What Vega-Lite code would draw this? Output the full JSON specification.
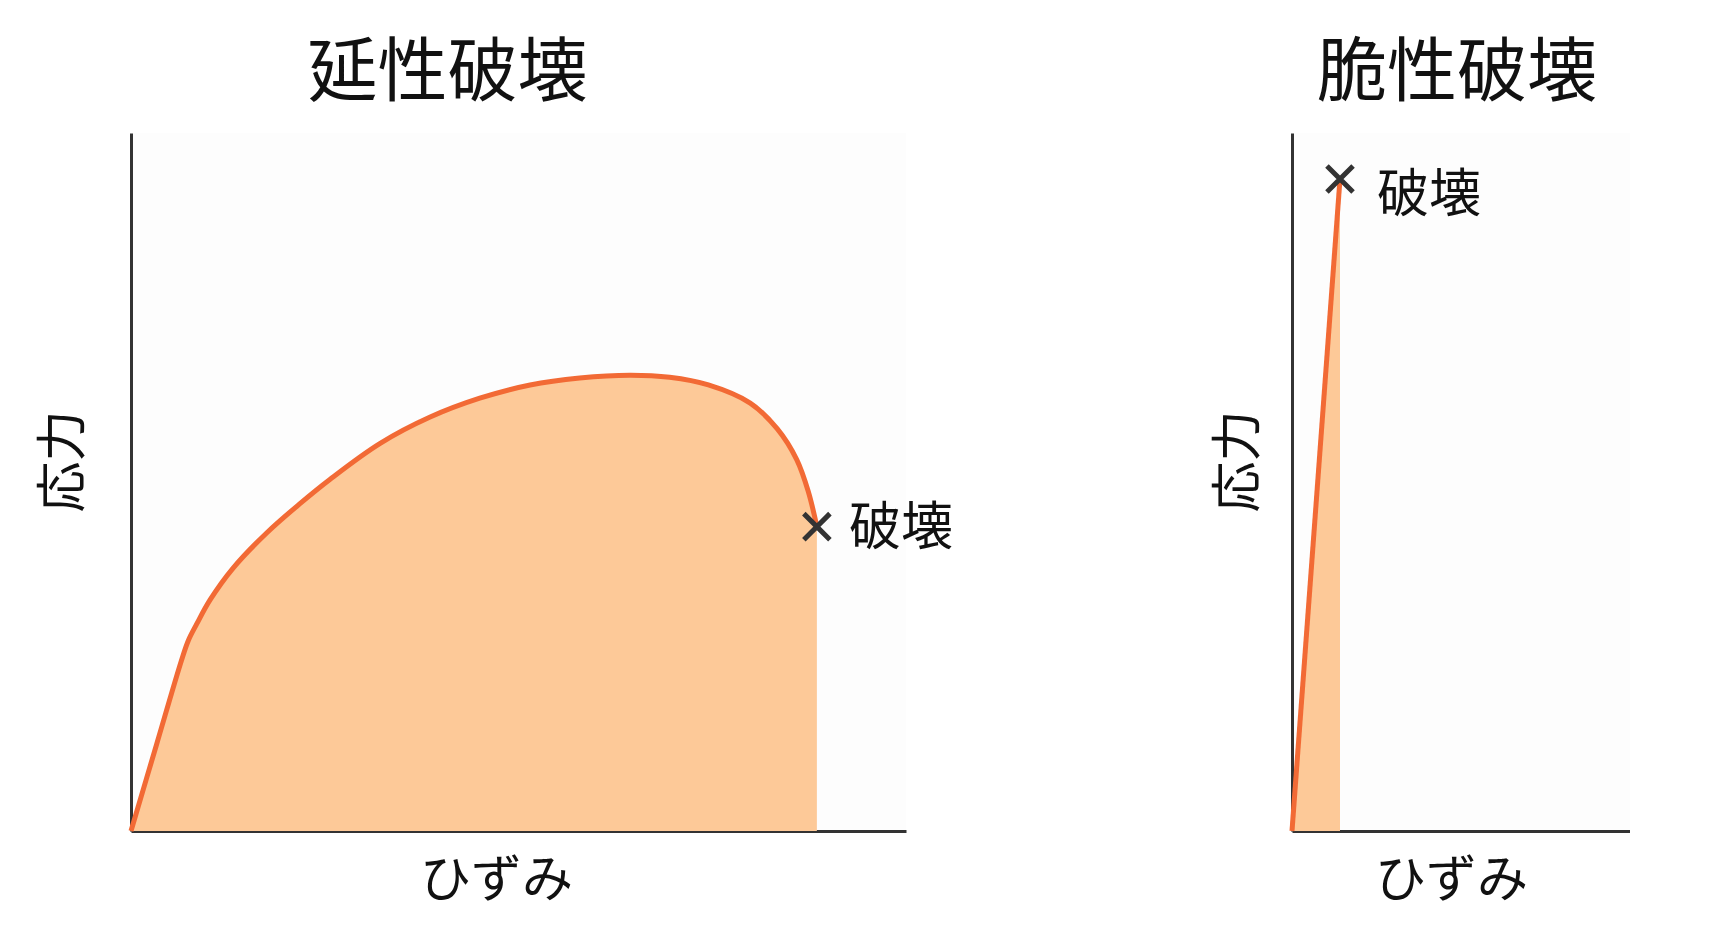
{
  "$schema": "https://vega.github.io/schema/vega-lite/v6.json",
  "background": "white",
  "padding": {"left": 38, "top": 40, "right": 0, "bottom": 10},
  "spacing": 260,
  "config": {
    "view": {"stroke": null, "fill": "#fdfdfd"},
    "font": "Noto Sans CJK JP",
    "axis": {
      "labels": false, "ticks": false, "grid": false,
      "domainColor": "#333333", "domainWidth": 3, "zindex": 1,
      "titleFont": "Noto Sans CJK JP", "titleFontSize": 51, "titleFontWeight": "normal", "titleColor": "#111111"
    },
    "title": {"fontSize": 70, "fontWeight": "normal", "color": "#111111", "font": "Noto Sans CJK JP"}
  },
  "datasets": {
    "ductile": [
      {"strain": 0, "stress": 0},
      {"strain": 3.3, "stress": 12.4},
      {"strain": 6.5, "stress": 24.4},
      {"strain": 7.4, "stress": 27.3},
      {"strain": 8.5, "stress": 29.7},
      {"strain": 10.2, "stress": 33.1},
      {"strain": 13.2, "stress": 37.7},
      {"strain": 17.5, "stress": 42.7},
      {"strain": 21.8, "stress": 46.9},
      {"strain": 25.7, "stress": 50.4},
      {"strain": 32.1, "stress": 55.5},
      {"strain": 38.6, "stress": 59.3},
      {"strain": 45.0, "stress": 62.0},
      {"strain": 51.5, "stress": 63.9},
      {"strain": 57.9, "stress": 64.9},
      {"strain": 64.4, "stress": 65.3},
      {"strain": 69.5, "stress": 65.0},
      {"strain": 74.5, "stress": 63.9},
      {"strain": 79.9, "stress": 61.3},
      {"strain": 83.4, "stress": 57.6},
      {"strain": 85.9, "stress": 53.2},
      {"strain": 87.4, "stress": 48.6},
      {"strain": 88.5, "stress": 43.6}
    ],
    "ductileBreak": [{"strain": 88.5, "stress": 43.6, "label": "破壊"}],
    "brittle": [
      {"strain": 0, "stress": 0},
      {"strain": 14.2, "stress": 93.4}
    ],
    "brittleBreak": [{"strain": 14.2, "stress": 93.4, "label": "破壊"}]
  },
  "hconcat": [
    {
      "width": 775,
      "height": 698,
      "title": {"text": "延性破壊", "frame": "group", "anchor": "middle", "dx": -71, "offset": 22},
      "encoding": {
        "x": {"field": "strain", "type": "quantitative", "scale": {"domain": [0, 100], "nice": false},
              "axis": {"title": "ひずみ", "titlePadding": 25, "titleX": 365}},
        "y": {"field": "stress", "type": "quantitative", "scale": {"domain": [0, 100], "nice": false},
              "axis": {"title": "応力", "titlePadding": 41, "titleY": 328}}
      },
      "layer": [
        {"data": {"name": "ductile"}, "mark": {"type": "area", "interpolate": "catmull-rom", "color": "#fdc998", "opacity": 1}},
        {"data": {"name": "ductile"}, "mark": {"type": "line", "interpolate": "catmull-rom", "color": "#f26a35", "strokeWidth": 5}},
        {"data": {"name": "ductileBreak"}, "mark": {"type": "point", "shape": "M-1,-1L1,1M1,-1L-1,1", "size": 680, "filled": false, "stroke": "#333333", "strokeWidth": 5, "opacity": 1}},
        {"data": {"name": "ductileBreak"}, "mark": {"type": "text", "align": "left", "baseline": "middle", "dx": 32, "dy": 2, "fontSize": 52, "color": "#111111"},
         "encoding": {"text": {"field": "label"}}}
      ]
    },
    {
      "width": 338,
      "height": 698,
      "title": {"text": "脆性破壊", "frame": "group", "anchor": "middle", "dx": -4, "offset": 22},
      "encoding": {
        "x": {"field": "strain", "type": "quantitative", "scale": {"domain": [0, 100], "nice": false},
              "axis": {"title": "ひずみ", "titlePadding": 25, "titleX": 159}},
        "y": {"field": "stress", "type": "quantitative", "scale": {"domain": [0, 100], "nice": false},
              "axis": {"title": "応力", "titlePadding": 27, "titleY": 328}}
      },
      "layer": [
        {"data": {"name": "brittle"}, "mark": {"type": "area", "color": "#fdc998", "opacity": 1}},
        {"data": {"name": "brittle"}, "mark": {"type": "line", "color": "#f26a35", "strokeWidth": 5}},
        {"data": {"name": "brittleBreak"}, "mark": {"type": "point", "shape": "M-1,-1L1,1M1,-1L-1,1", "size": 680, "filled": false, "stroke": "#333333", "strokeWidth": 5, "opacity": 1}},
        {"data": {"name": "brittleBreak"}, "mark": {"type": "text", "align": "left", "baseline": "middle", "dx": 37, "dy": 17, "fontSize": 52, "color": "#111111"},
         "encoding": {"text": {"field": "label"}}}
      ]
    }
  ]
}
